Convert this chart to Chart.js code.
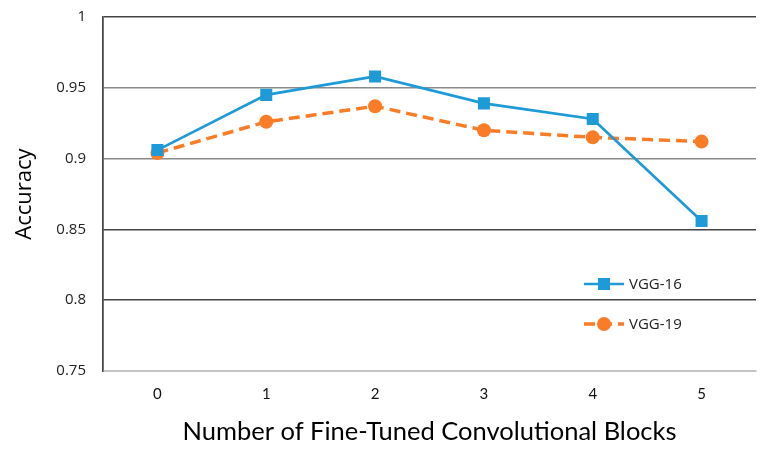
<!DOCTYPE html>
<html>
<head>
<meta charset="utf-8">
<script src="https://cdn.jsdelivr.net/npm/chart.js@4.4.1/dist/chart.umd.min.js"></script>
<style>
  html, body { margin: 0; padding: 0; background: #fff; }
  #wrap { width: 772px; height: 452px; }
</style>
</head>
<body>
<div id="wrap"><canvas id="chart" width="772" height="452"></canvas></div>
<script>
const blocks = ['0', '1', '2', '3', '4', '5'];
const vgg16 = [0.906, 0.945, 0.958, 0.939, 0.928, 0.856];
const vgg19 = [0.904, 0.926, 0.937, 0.920, 0.915, 0.912];
const yTicks = [0.75, 0.8, 0.85, 0.9, 0.95, 1];

// grid line shades differ a bit in the scan
function gridColor(v) {
    if (v <= 0.75) return '#c4c4c4';
    if (v >= 0.9 && v < 1) return '#8a8a8a';
    return '#454545';
}

// legend sits inside the plot, bottom right
const insideLegend = {
    id: 'insideLegend',
    afterDraw(chart) {
        const ctx = chart.ctx;
        const area = chart.chartArea;
        const x0 = area.right - 172;
        const rows = [
            { ds: chart.data.datasets[0], y: area.bottom - 87 },
            { ds: chart.data.datasets[1], y: area.bottom - 47 }
        ];
        ctx.save();
        rows.forEach(r => {
            ctx.strokeStyle = r.ds.borderColor;
            ctx.lineWidth = r.ds.borderWidth;
            ctx.setLineDash(r.ds.borderDash || []);
            ctx.beginPath();
            ctx.moveTo(x0, r.y);
            ctx.lineTo(x0 + 40, r.y);
            ctx.stroke();
            ctx.setLineDash([]);
            ctx.fillStyle = r.ds.backgroundColor;
            Chart.helpers.drawPoint(ctx, {
                pointStyle: r.ds.pointStyle,
                radius: r.ds.pointRadius,
                borderWidth: 0
            }, x0 + 20, r.y);
            ctx.fillStyle = '#222';
            ctx.font = '15px "Open Sans"';
            ctx.textBaseline = 'middle';
            ctx.fillText(r.ds.label, x0 + 45, r.y + 1);
        });
        ctx.restore();
    }
};

new Chart(document.getElementById('chart'), {
    type: 'line',
    data: {
        labels: blocks,
        datasets: [{
            label: 'VGG-16',
            data: vgg16,
            borderColor: '#1e9ad6',
            backgroundColor: '#1e9ad6',
            borderWidth: 2.7,
            pointStyle: 'rect',
            pointRadius: 8.5,
            pointBorderWidth: 0,
            tension: 0
        }, {
            label: 'VGG-19',
            data: vgg19,
            borderColor: '#fb7c27',
            backgroundColor: '#fb7c27',
            borderWidth: 3.5,
            borderDash: [11, 6],
            pointStyle: 'circle',
            pointRadius: 7,
            pointBorderWidth: 0,
            tension: 0
        }]
    },
    options: {
        responsive: false,
        animation: false,
        layout: { autoPadding: false, padding: { left: 0, top: 17, right: 16, bottom: 0 } },
        plugins: {
            legend: { display: false },
            tooltip: { enabled: false }
        },
        scales: {
            x: {
                offset: true,
                grid: {
                    offset: true,
                    drawTicks: false,
                    color: c => (c.index === 0 || c.index === blocks.length) ? '#454545' : 'rgba(0,0,0,0)',
                    lineWidth: 1.5
                },
                border: { color: '#c4c4c4', width: 2 },
                ticks: {
                    padding: 14,
                    color: '#111',
                    font: { family: 'Lato', size: 15 }
                },
                title: {
                    display: true,
                    text: 'Number of Fine-Tuned Convolutional Blocks',
                    color: '#000',
                    font: { family: 'Lato', size: 25.5 },
                    padding: { top: 0, bottom: 5 }
                },
                afterFit: s => { s.height = 81; }
            },
            y: {
                min: 0.75,
                max: 1,
                afterBuildTicks: s => { s.ticks = yTicks.map(v => ({ value: v })); },
                grid: {
                    drawTicks: false,
                    color: c => gridColor(c.tick.value),
                    lineWidth: c => c.tick.value <= 0.75 ? 2 : 1.5
                },
                border: { color: '#454545', width: 1.5 },
                ticks: {
                    padding: 17,
                    color: '#222',
                    font: { family: 'Open Sans', size: 15 },
                    callback: v => String(v)
                },
                title: {
                    display: true,
                    text: 'Accuracy',
                    color: '#000',
                    font: { family: 'Open Sans', size: 22 },
                    padding: { top: 12, bottom: 0 }
                },
                afterFit: s => {
                    s.width = 103;
                    s.paddingTop = 0;
                    s.paddingBottom = 0;
                }
            }
        }
    },
    plugins: [insideLegend]
});
</script>
</body>
</html>
